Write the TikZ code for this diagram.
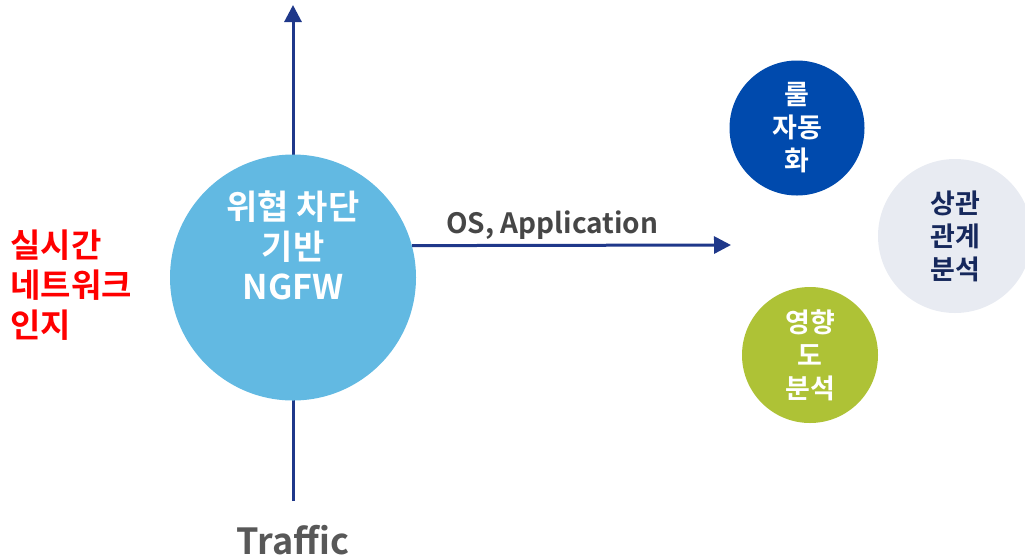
\documentclass[tikz,border=0pt]{standalone}
\usepackage{fontspec}
\setmainfont{Noto Sans CJK KR}[BoldFont=* Bold]
\usepackage{tikz}
\usetikzlibrary{arrows.meta,backgrounds}
\definecolor{LineNavy}{RGB}{31,56,138}
\definecolor{SkyDisc}{RGB}{98,185,226}
\definecolor{RoyalDisc}{RGB}{0,74,173}
\definecolor{MistDisc}{RGB}{232,235,242}
\definecolor{LimeDisc}{RGB}{174,194,54}
\definecolor{DarkNavy}{RGB}{22,40,92}
\definecolor{TextGray}{RGB}{70,70,70}
\tikzset{
	flow/.style={LineNavy, line width=3pt, -{Triangle[length=17pt, width=17pt]}},
	disc/.style={circle, inner sep=0pt, align=center, font=\bfseries\fontsize{27}{33}\selectfont},
	redtext/.style={text=red, align=left, anchor=west, font=\bfseries\fontsize{33}{40}\selectfont}
}

\begin{document}
\begin{tikzpicture}[x=1pt, y=-1pt]
		\useasboundingbox (0,0) rectangle (1025,558);
		% main disc and flows
		\node[circle, fill=SkyDisc, minimum size=246pt, inner sep=0pt] (ngfw) at (293,277.5) {};
		\node[text=white, align=center, font=\bfseries\fontsize{34}{40}\selectfont] (ngfwtext) at (293,245) {위협 차단\\기반\\NGFW};
		\coordinate (top) at (293,5);
		\coordinate (bottom) at (293,501);
		\coordinate (osend) at (731,245);
		\begin{scope}[on background layer]
			\draw[flow] (bottom) -- (top);
		\end{scope}
		\draw[flow] (ngfw.15) -- (osend) node[pos=0.44, above=1pt, text=TextGray, font=\bfseries\fontsize{28}{34}\selectfont] (os) {OS, Application};
		\node[text=TextGray!90, font=\bfseries\fontsize{36}{40}\selectfont] (traffic) at (293,540) {Traffic};
		\node[redtext] (aware) at (7,285) {실시간\\네트워크\\인지};
		% result discs
		\node[disc, fill=RoyalDisc, text=white, minimum size=135pt] (rule) at (797,128) {룰\\자동\\화};
		\node[disc, fill=MistDisc, text=DarkNavy, minimum size=154pt] (corr) at (955,236) {상관\\관계\\분석};
		\node[disc, fill=LimeDisc, text=white, minimum size=136pt] (impact) at (810,355) {영향\\도\\분석};
	\end{tikzpicture}
\end{document}
